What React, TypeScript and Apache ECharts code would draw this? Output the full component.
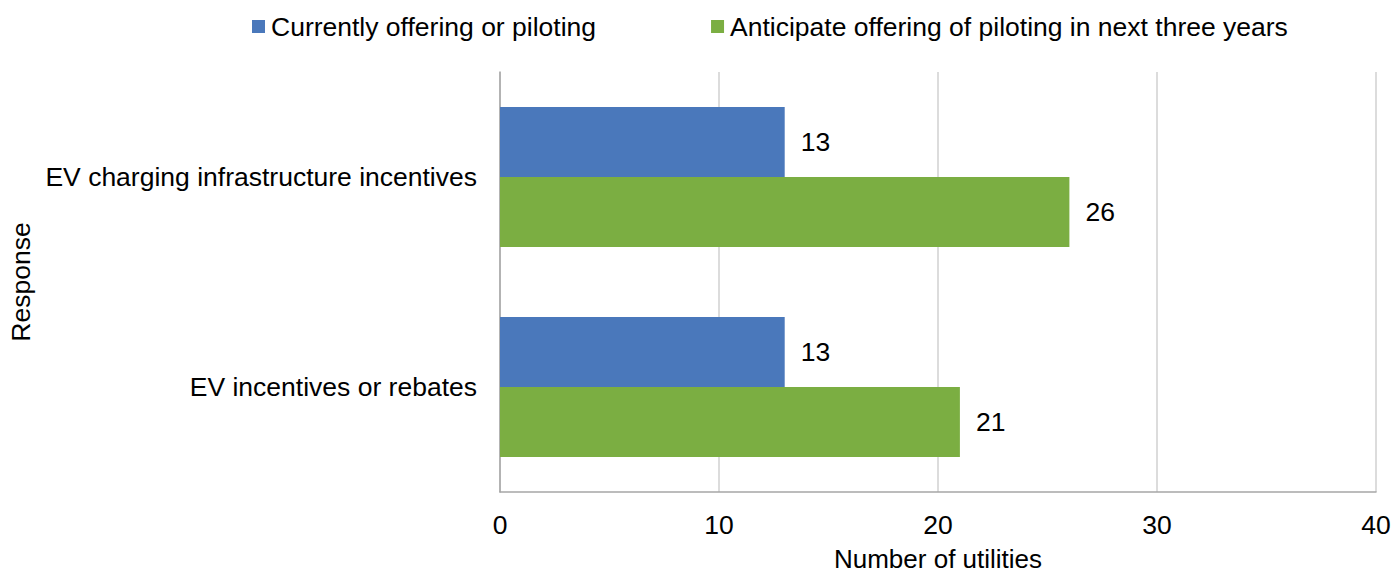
import React, { useEffect, useRef } from "react";
import * as echarts from "echarts";

const categories = ["EV charging infrastructure incentives", "EV incentives or rebates"];
const currentlyOffering = [13, 13];
const anticipateOffering = [26, 21];
const seriesNames = ["Currently offering or piloting", "Anticipate offering of piloting in next three years"];
const xTicks = { min: 0, max: 40, interval: 10 };

const FONT = "'Liberation Sans', Arial, sans-serif";
const FS = 26.5;

export default function App() {
  const ref = useRef<HTMLDivElement>(null);

  useEffect(() => {
    if (!ref.current) return;
    const chart = echarts.init(ref.current, undefined, { renderer: "svg" });
    const labelStyle = {
      show: true,
      position: "right" as const,
      distance: 16,
      color: "#000",
      fontSize: FS,
      fontFamily: FONT,
    };
    chart.setOption({
      animation: false,
      textStyle: { fontFamily: FONT },
      legend: {
        left: 247,
        top: 8,
        itemWidth: 13,
        itemHeight: 13,
        itemGap: 115,
        icon: "rect",
        textStyle: { fontSize: FS, color: "#000", fontFamily: FONT, padding: [0, 0, 0, 1] },
        data: seriesNames,
      },
      grid: {
        left: 500,
        right: 17,
        top: 72,
        bottom: 82,
        containLabel: false,
        outerBoundsMode: "none",
      },
      xAxis: {
        type: "value",
        min: xTicks.min,
        max: xTicks.max,
        interval: xTicks.interval,
        name: "Number of utilities",
        nameLocation: "middle",
        nameGap: 54,
        nameTextStyle: { fontSize: 26, lineHeight: 26, color: "#000", fontFamily: FONT },
        axisLine: { show: true, lineStyle: { color: "#a6a6a6", width: 1.5 } },
        axisTick: { show: false },
        axisLabel: { fontSize: FS, color: "#000", margin: 19, fontFamily: FONT },
        splitLine: { show: true, lineStyle: { color: "#d0d0d0", width: 1.5 } },
      },
      yAxis: {
        type: "category",
        inverse: true,
        data: categories,
        name: "Response",
        nameLocation: "middle",
        nameGap: 466,
        nameRotate: 90,
        nameTextStyle: { fontSize: FS, color: "#000", fontFamily: FONT },
        axisLine: { show: true, lineStyle: { color: "#a6a6a6", width: 1.5 } },
        axisTick: { show: false },
        axisLabel: { fontSize: FS, color: "#000", margin: 23, fontFamily: FONT },
      },
      series: [
        {
          name: seriesNames[0],
          type: "bar",
          data: currentlyOffering,
          barGap: "0%",
          barCategoryGap: "33.3%",
          itemStyle: { color: "#4a78bb" },
          label: labelStyle,
        },
        {
          name: seriesNames[1],
          type: "bar",
          data: anticipateOffering,
          barGap: "0%",
          barCategoryGap: "33.3%",
          itemStyle: { color: "#7bae42" },
          label: labelStyle,
        },
      ],
    });
    return () => chart.dispose();
  }, []);

  return (
    <div
      ref={ref}
      style={{ position: "absolute", left: 0, top: 0, width: 1393, height: 574, background: "#fff" }}
    />
  );
}
